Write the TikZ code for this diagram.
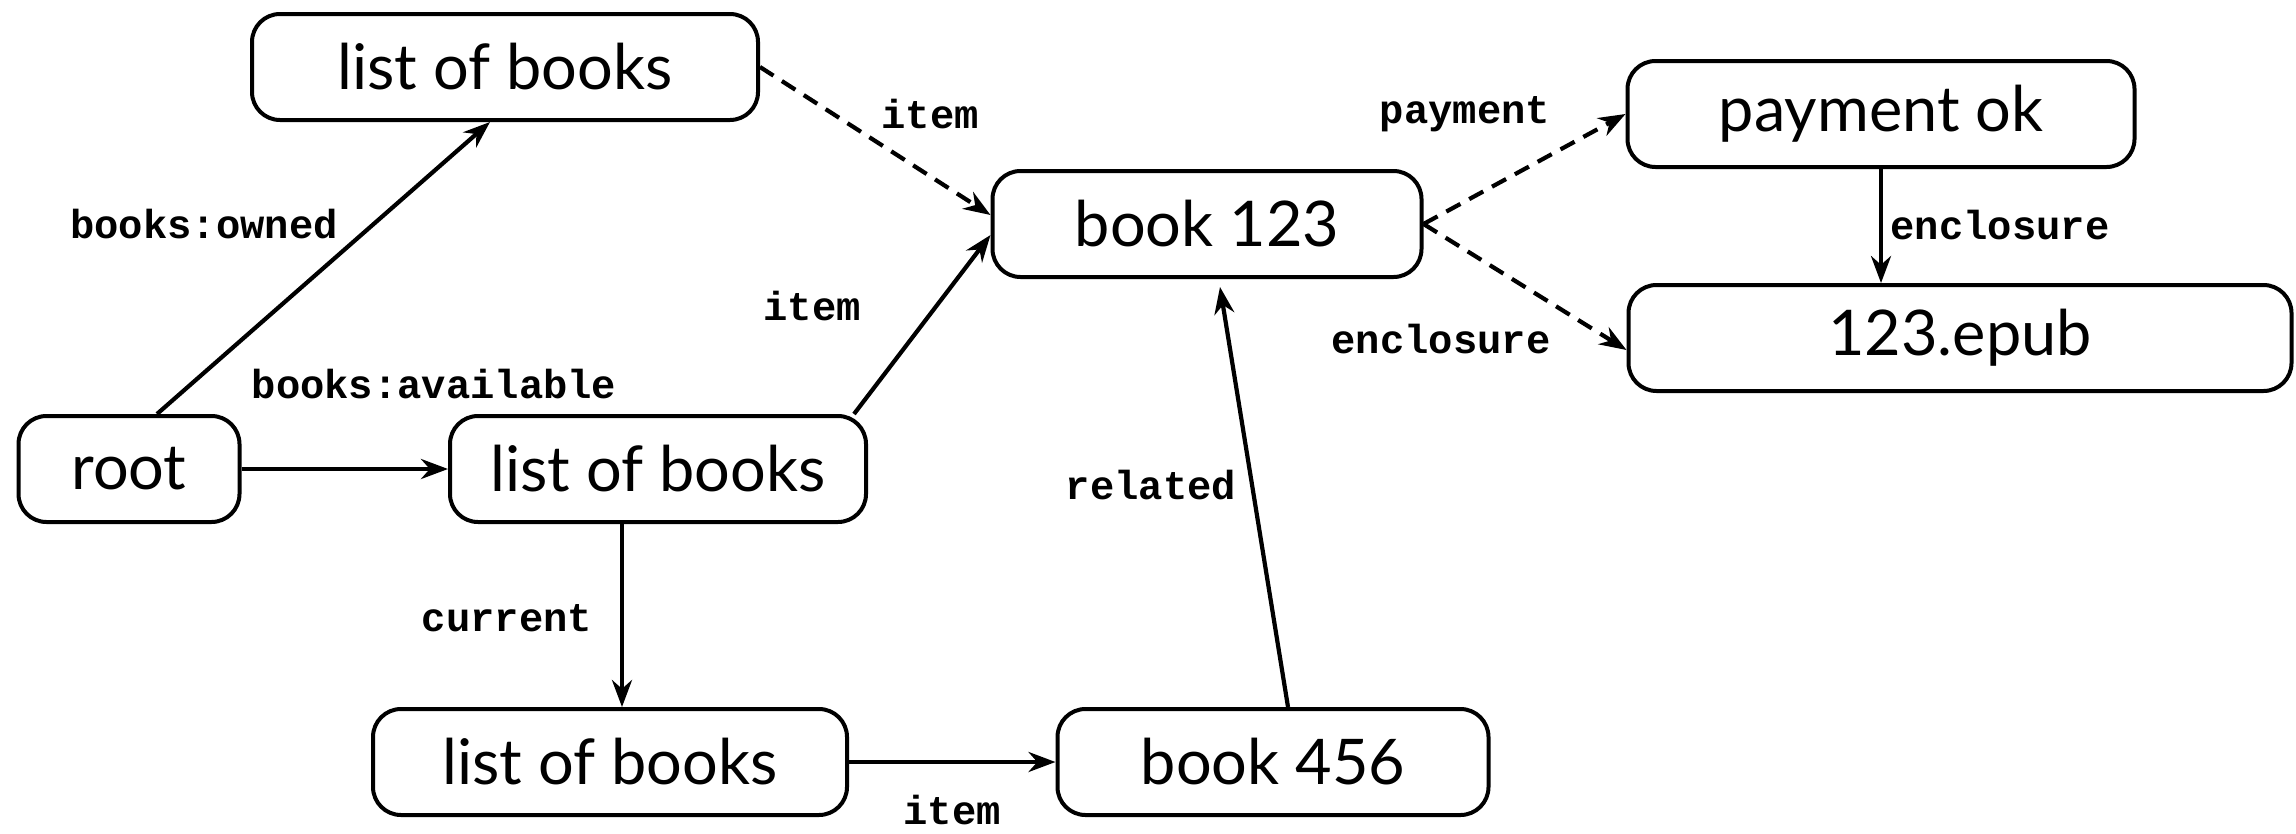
\documentclass[tikz,border=0pt]{standalone}
\usepackage{fontspec}
\setmainfont{Lato}
\newfontfamily\lblfont{Liberation Mono}
\usetikzlibrary{arrows.meta}
\begin{document}
\begin{tikzpicture}[x=1pt,y=-1pt,
  box/.style={draw, line width=4pt, rounded corners=28pt, minimum height=106pt, inner sep=0pt,
    font=\fontsize{63}{65}\selectfont},
  lbl/.style={font=\lblfont\bfseries\fontsize{40.5}{42}\selectfont, inner sep=0pt},
  conn/.style={line width=4.2pt, -{Stealth[length=27pt,width=20pt]}},
  dconn/.style={conn, dash pattern=on 16pt off 10pt}]
\useasboundingbox (0,0) rectangle (2296,833);
\node[box, minimum width=506pt] (lobA) at (505,67) {list of books};
\node[box, minimum width=429pt] (bkA) at (1207,224) {book 123};
\node[box, minimum width=507pt] (pay) at (1881,114) {payment ok};
\node[box, minimum width=663pt] (epub) at (1960,338) {123.epub};
\node[box, minimum width=221pt] (root) at (129,469) {root};
\node[box, minimum width=416pt] (lobB) at (658,469) {list of books};
\node[box, minimum width=474pt] (lobC) at (610,762) {list of books};
\node[box, minimum width=431pt] (bkB) at (1273,762) {book 456};

\draw[conn] ([xshift=28pt]root.north) -- ([xshift=-15pt]lobA.south);
\draw[conn] (root.east) -- (lobB.west);
\draw[conn] ([xshift=196pt]lobB.north) -- ([yshift=-11pt]bkA.west);
\draw[dconn] (lobA.east) -- ([yshift=9pt]bkA.west);
\draw[dconn] (bkA.east) -- (pay.west);
\draw[dconn] (bkA.east) -- ([yshift=-12pt]epub.west);
\draw[conn] (pay.south) -- (pay.south |- epub.north);
\draw[conn] ([xshift=-36pt]lobB.south) -- ([xshift=-36pt]lobB.south |- lobC.north);
\draw[conn] (lobC.east) -- (bkB.west);
\draw[conn] ([xshift=15pt]bkB.north) -- ([xshift=13pt,yshift=-8pt]bkA.south);

\node[lbl] (l1) at (204,224) {books:owned};
\node[lbl] (l2) at (434,384) {books:available};
\node[lbl] (l3) at (812,306) {item};
\node[lbl] (l4) at (930,114) {item};
\node[lbl] (l5) at (1465,114) {payment};
\node[lbl] (l6) at (1441,339) {enclosure};
\node[lbl] (l7) at (2000,225) {enclosure};
\node[lbl] (l8) at (507,618) {current};
\node[lbl] (l9) at (1151,485) {related};
\node[lbl] (l10) at (952,810) {item};
\end{tikzpicture}
\end{document}
